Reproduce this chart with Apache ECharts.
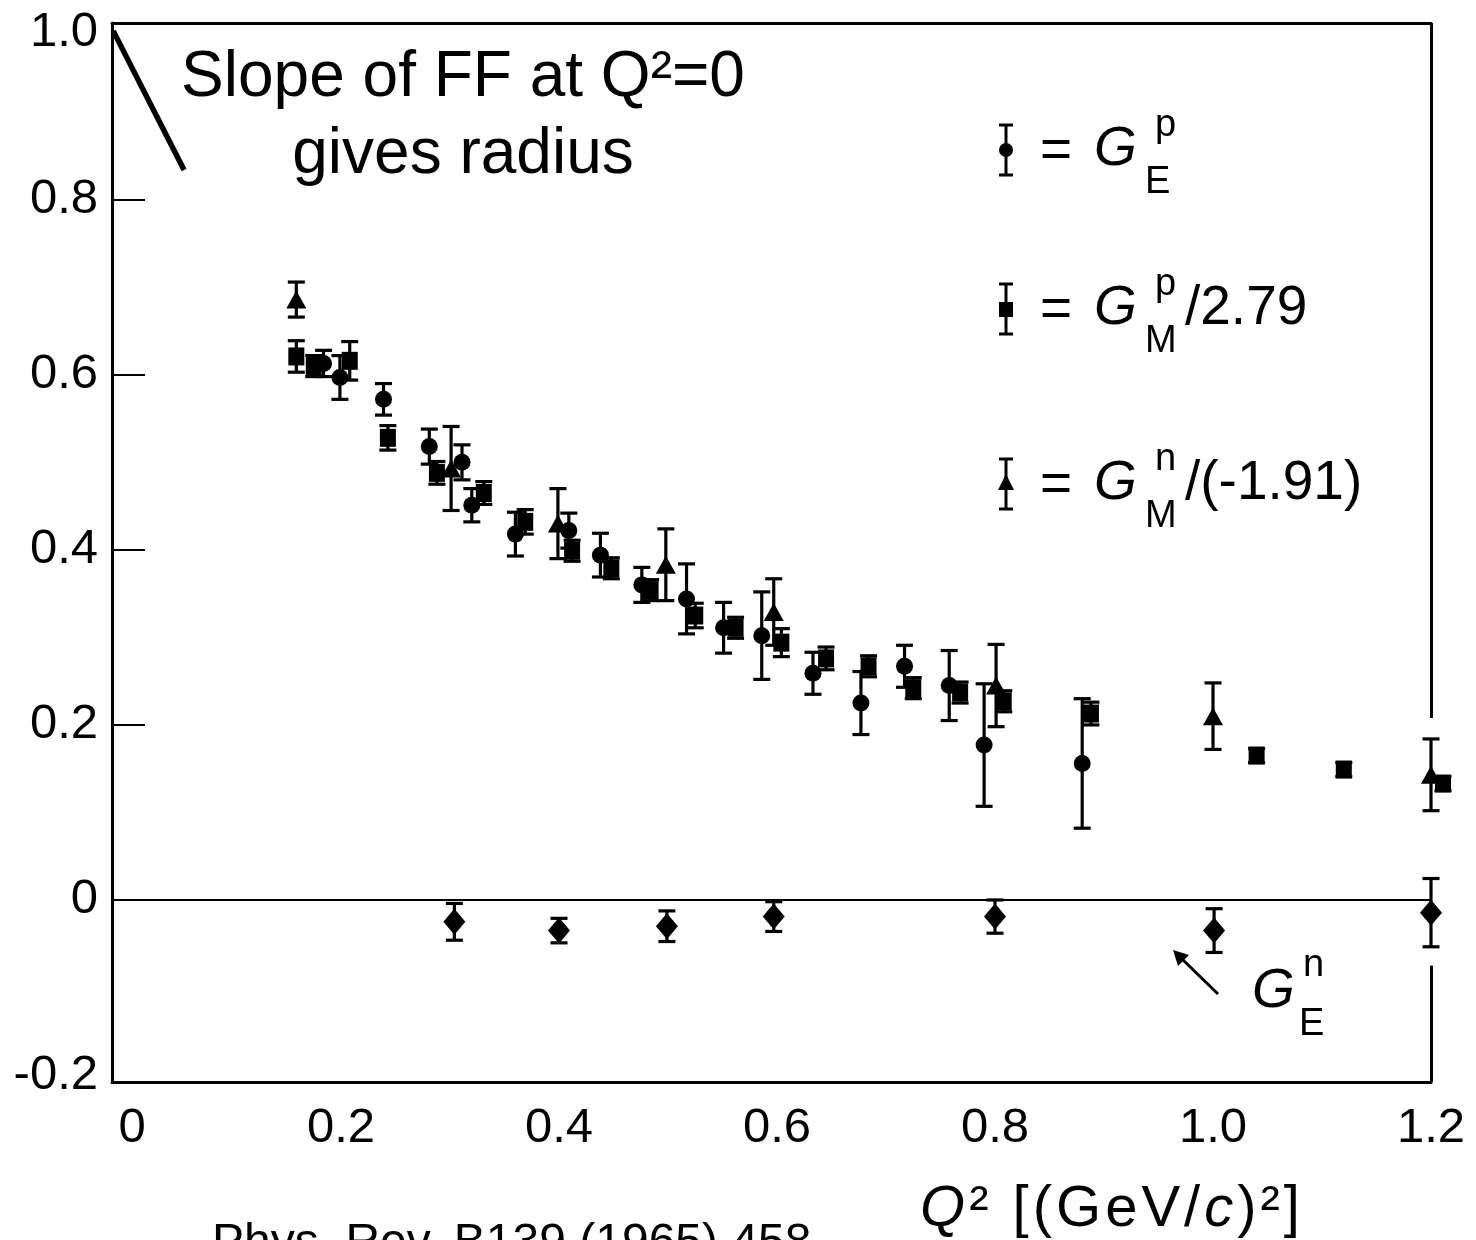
<!DOCTYPE html>
<html>
<head>
    <meta charset="utf-8" />
    <title>Nucleon form factors</title>
    <script src="https://cdn.jsdelivr.net/npm/echarts@6/dist/echarts.min.js"></script>
    <style type="text/css">
        * { margin: 0; padding: 0; }
        html, body { width: 100%; height: 100%; background: #fff; }
        #chart { width: 1476px; height: 1240px; }
    </style>
</head>
<body>
    <div id="chart"></div>
</body>
</html>
<script type="text/javascript">
    // [Q2, value, error]
    var gEp = [
        [0.184, 0.613, 0.015], [0.199, 0.597, 0.025], [0.239, 0.572, 0.018],
        [0.281, 0.518, 0.020], [0.311, 0.500, 0.020], [0.320, 0.451, 0.019],
        [0.360, 0.418, 0.025], [0.409, 0.422, 0.020], [0.438, 0.394, 0.025],
        [0.476, 0.360, 0.020], [0.517, 0.344, 0.040], [0.551, 0.311, 0.029],
        [0.586, 0.302, 0.050], [0.633, 0.259, 0.024], [0.677, 0.225, 0.036],
        [0.717, 0.267, 0.024], [0.758, 0.245, 0.040], [0.790, 0.177, 0.070],
        [0.880, 0.156, 0.074]
    ];
    var gMp = [
        [0.159, 0.621, 0.018], [0.175, 0.610, 0.012], [0.208, 0.616, 0.022],
        [0.243, 0.528, 0.014], [0.288, 0.488, 0.013], [0.331, 0.465, 0.013],
        [0.369, 0.432, 0.014], [0.412, 0.399, 0.012], [0.448, 0.379, 0.012],
        [0.484, 0.354, 0.012], [0.525, 0.325, 0.014], [0.562, 0.311, 0.012],
        [0.604, 0.294, 0.016], [0.645, 0.276, 0.013], [0.684, 0.267, 0.012],
        [0.725, 0.242, 0.012], [0.768, 0.237, 0.012], [0.808, 0.227, 0.012],
        [0.888, 0.213, 0.013], [1.040, 0.165, 0.008], [1.120, 0.149, 0.008],
        [1.211, 0.133, 0.008]
    ];
    var gMn = [
        [0.159, 0.686, 0.020], [0.301, 0.493, 0.048], [0.399, 0.430, 0.040],
        [0.498, 0.383, 0.041], [0.597, 0.329, 0.038], [0.801, 0.245, 0.047],
        [1.000, 0.210, 0.038], [1.200, 0.143, 0.041]
    ];
    var gEn = [
        [0.304, -0.025, 0.021], [0.400, -0.035, 0.014], [0.499, -0.030, 0.0175],
        [0.597, -0.019, 0.017], [0.800, -0.019, 0.019], [1.001, -0.035, 0.025],
        [1.200, -0.0145, 0.039]
    ];

    var xTicks = [0, 0.2, 0.4, 0.6, 0.8, 1.0, 1.2];
    var yTicks = [-0.2, 0, 0.2, 0.4, 0.6, 0.8, 1.0];
    var yInnerTicks = [0.2, 0.4, 0.6, 0.8];

    // slope annotation line and the gap in the right frame
    var slopeLine = [[-0.009, 0.993], [0.056, 0.834]];
    var rightFrame = [[[1.2, 1.002], [1.2, 0.208]], [[1.2, -0.075], [1.2, -0.208]]];

    var FONT = '"Liberation Sans", Arial, Helvetica, sans-serif';
    var xMin = -0.0101, xMax = 1.2, yMin = -0.208, yMax = 1.002;

    function errRender(params, api) {
        var x = api.value(0), y = api.value(1), e = api.value(2);
        var t = api.coord([x, y + e]), b = api.coord([x, y - e]);
        var hw = 8.5, st = { stroke: '#000', lineWidth: 3.2 };
        return {
            type: 'group',
            children: [
                { type: 'line', shape: { x1: t[0], y1: t[1], x2: b[0], y2: b[1] }, style: st },
                { type: 'line', shape: { x1: t[0] - hw, y1: t[1], x2: t[0] + hw, y2: t[1] }, style: st },
                { type: 'line', shape: { x1: b[0] - hw, y1: b[1], x2: b[0] + hw, y2: b[1] }, style: st }
            ]
        };
    }

    function errSeries(data) {
        return {
            type: 'custom', renderItem: errRender, data: data,
            encode: { x: 0, y: 1 }, z: 3, silent: true, clip: false
        };
    }
    function markSeries(data, symbol, size) {
        return {
            type: 'scatter', data: data, symbol: symbol, symbolSize: size,
            itemStyle: { color: '#000', opacity: 1 }, z: 4, silent: true, clip: false
        };
    }

    // legend drawn by hand: error bar + symbol + text
    function legendItem(cy, shape, sup, sub, tail) {
        var st = { stroke: '#000', lineWidth: 3 };
        var bx = 1006, h = 25;
        var els = [
            { type: 'line', shape: { x1: bx, y1: cy - h, x2: bx, y2: cy + h }, style: st },
            { type: 'line', shape: { x1: bx - 7, y1: cy - h, x2: bx + 7, y2: cy - h }, style: st },
            { type: 'line', shape: { x1: bx - 7, y1: cy + h, x2: bx + 7, y2: cy + h }, style: st },
            shape,
            { type: 'text', x: 1040, y: cy + 2, style: { text: '=', font: '55px ' + FONT, fill: '#000', verticalAlign: 'middle' } },
            { type: 'text', x: 1094, y: cy, style: { text: 'G', font: 'italic 55px ' + FONT, fill: '#000', verticalAlign: 'middle' } },
            { type: 'text', x: 1155, y: cy - 24, style: { text: sup, font: '38px ' + FONT, fill: '#000', verticalAlign: 'middle' } },
            { type: 'text', x: 1145, y: cy + 33, style: { text: sub, font: '38px ' + FONT, fill: '#000', verticalAlign: 'middle' } }
        ];
        if (tail) {
            els.push({ type: 'text', x: 1185, y: cy, style: { text: tail, font: '55px ' + FONT, fill: '#000', verticalAlign: 'middle' } });
        }
        return els;
    }

    var graphics = []
        .concat(legendItem(150, { type: 'circle', shape: { cx: 1006, cy: 150, r: 7 }, style: { fill: '#000' } }, 'p', 'E', ''))
        .concat(legendItem(309, { type: 'rect', shape: { x: 999, y: 302, width: 14, height: 15 }, style: { fill: '#000' } }, 'p', 'M', '/2.79'))
        .concat(legendItem(484, { type: 'polygon', shape: { points: [[1006, 474], [998, 490], [1014, 490]] }, style: { fill: '#000' } }, 'n', 'M', '/(-1.91)'));

    // axis title, spaced out a little like the original
    var titleParts = [['i', 'Q'], ['n', '\u00b2'], ['n', ' '], ['n', '['], ['n', '('], ['n', 'G'], ['n', 'e'],
        ['n', 'V'], ['n', '/'], ['i', 'c'], ['n', ')'], ['n', '\u00b2'], ['n', ']']];
    var titleText = titleParts.map(function (p) { return '{' + p[0] + '|' + p[1] + '}'; }).join('');

    graphics.push(
        // annotation text
        { type: 'text', x: 463, y: 78, style: { text: 'Slope of FF at Q\u00b2=0', font: '64px ' + FONT, fill: '#000', align: 'center', verticalAlign: 'middle' } },
        { type: 'text', x: 463, y: 155, style: { text: 'gives radius', font: '64px ' + FONT, fill: '#000', align: 'center', verticalAlign: 'middle' } },
        // G_E^n label with arrow
        { type: 'text', x: 1252, y: 992, style: { text: 'G', font: 'italic 55px ' + FONT, fill: '#000', verticalAlign: 'middle' } },
        { type: 'text', x: 1303, y: 966, style: { text: 'n', font: '38px ' + FONT, fill: '#000', verticalAlign: 'middle' } },
        { type: 'text', x: 1299, y: 1025, style: { text: 'E', font: '38px ' + FONT, fill: '#000', verticalAlign: 'middle' } },
        { type: 'line', shape: { x1: 1218, y1: 994, x2: 1182, y2: 959 }, style: { stroke: '#000', lineWidth: 3 } },
        { type: 'polygon', shape: { points: [[1173, 950], [1189, 955], [1178, 966]] }, style: { fill: '#000' } },
        {
            type: 'text', x: 1110, y: 1210,
            style: {
                text: titleText,
                align: 'center', verticalAlign: 'middle',
                rich: {
                    i: { font: 'italic 58px ' + FONT, fill: '#000', padding: [0, 2, 0, 2] },
                    n: { font: '58px ' + FONT, fill: '#000', padding: [0, 2, 0, 2] }
                }
            }
        },
        // citation, cut at the bottom edge
        { type: 'text', x: 212, y: 1244, style: { text: 'Phys. Rev. B139 (1965) 458', font: '48px ' + FONT, fill: '#000', verticalAlign: 'middle' } },
        // stray blue glyph at left edge
        { type: 'text', x: -34, y: 120, style: { text: 'G', font: '48px ' + FONT, fill: '#2a6ab8', verticalAlign: 'middle' } }
    );

    var myChart = echarts.init(document.getElementById('chart'));

    var option = {
        backgroundColor: '#fff',
        animation: false,
        grid: { left: 112, right: 45, top: 23, bottom: 158 },
        xAxis: [{
            type: 'value', min: xMin, max: xMax,
            axisLine: { show: true, onZero: false, lineStyle: { color: '#000', width: 3 } },
            axisTick: { show: false },
            splitLine: { show: false },
            axisLabel: {
                customValues: xTicks, margin: 22,
                fontFamily: FONT, fontSize: 49, color: '#000',
                formatter: function (v) { return v === 0 ? '{z|0}' : v.toFixed(1); },
                rich: { z: { fontFamily: FONT, fontSize: 49, color: '#000', padding: [0, 0, 0, 18] } }
            }
        }, {
            type: 'value', position: 'top', min: xMin, max: xMax,
            axisLine: { show: true, onZero: false, lineStyle: { color: '#000', width: 3 } },
            axisTick: { show: false }, axisLabel: { show: false }, splitLine: { show: false }
        }],
        yAxis: {
            type: 'value', min: yMin, max: yMax,
            axisLine: { show: true, onZero: false, lineStyle: { color: '#000', width: 3 } },
            axisTick: { show: true, inside: true, length: 33, customValues: yInnerTicks, lineStyle: { color: '#000', width: 2 } },
            splitLine: { show: false },
            axisLabel: {
                customValues: yTicks, margin: 14,
                fontFamily: FONT, fontSize: 49, color: '#000',
                formatter: function (v) {
                    if (v === 0) return '0';
                    if (v >= 0.99) return '{t|1.0}';
                    return v.toFixed(1);
                },
                rich: { t: { fontFamily: FONT, fontSize: 49, color: '#000', padding: [16, 0, 0, 0] } }
            }
        },
        graphic: graphics,
        series: [
            {
                type: 'line', data: [], silent: true,
                markLine: {
                    silent: true, symbol: 'none', animation: false,
                    label: { show: false },
                    data: [
                        [{ coord: [xMin, 0], lineStyle: { color: '#000', width: 2, type: 'solid' } }, { coord: [xMax, 0] }],
                        [{ coord: slopeLine[0], lineStyle: { color: '#000', width: 5.5, type: 'solid' } }, { coord: slopeLine[1] }],
                        [{ coord: rightFrame[0][0], lineStyle: { color: '#000', width: 3, type: 'solid' } }, { coord: rightFrame[0][1] }],
                        [{ coord: rightFrame[1][0], lineStyle: { color: '#000', width: 3, type: 'solid' } }, { coord: rightFrame[1][1] }]
                    ]
                }
            },
            errSeries(gEp), errSeries(gMp), errSeries(gMn), errSeries(gEn),
            markSeries(gMp, 'rect', [16, 18]),
            markSeries(gEp, 'circle', 17),
            markSeries(gMn, 'triangle', [20, 18]),
            markSeries(gEn, 'diamond', [22, 26])
        ]
    };

    myChart.setOption(option);
</script>
